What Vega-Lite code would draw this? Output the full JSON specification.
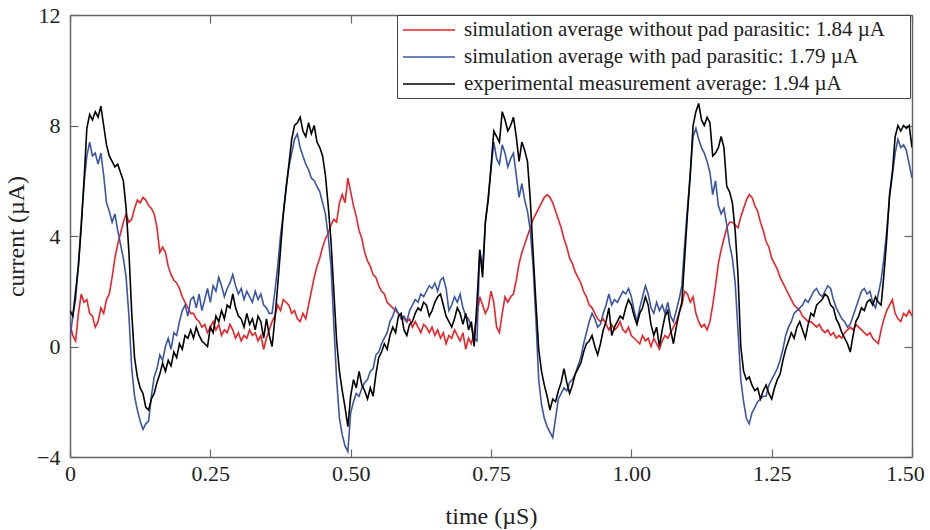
{
"$schema": "https://vega.github.io/schema/vega-lite/v6.json",
"autosize": {"type": "none"},
"padding": {"left": 70, "top": 15, "right": 18, "bottom": 73},
"width": 842,
"height": 442,
"background": "white",
"config": {
  "font": "Liberation Serif",
  "view": {"stroke": null},
  "axis": {"labelFont": "Liberation Serif", "titleFont": "Liberation Serif", "labelFontSize": 22, "titleFontSize": 24, "titleFontWeight": "normal", "labelColor": "#222", "titleColor": "#222", "domainColor": "#666", "domainWidth": 1.5, "tickColor": "#666", "tickWidth": 1.2, "grid": false}
},
"data": {"values": [
{"t":0,"r":0.8,"b":0.3,"k":1.3},{"t":0.005,"r":0.4,"b":1.1,"k":1.1},{"t":0.01,"r":0.2,"b":1.7,"k":2.0},{"t":0.015,"r":1.2,"b":3.0,"k":2.9},{"t":0.02,"r":1.9,"b":4.5,"k":4.3},{"t":0.025,"r":1.6,"b":5.9,"k":6.0},{"t":0.03,"r":1.7,"b":6.9,"k":7.9},{"t":0.035,"r":1.2,"b":7.4,"k":8.4},{"t":0.04,"r":1.1,"b":6.9,"k":8.2},{"t":0.045,"r":0.7,"b":7.0,"k":8.5},
{"t":0.05,"r":0.9,"b":6.6,"k":8.3},{"t":0.055,"r":1.4,"b":7.0,"k":8.7},{"t":0.06,"r":1.2,"b":6.2,"k":8.0},{"t":0.065,"r":1.7,"b":5.2,"k":7.3},{"t":0.07,"r":1.9,"b":4.9,"k":6.9},{"t":0.075,"r":2.5,"b":4.5,"k":6.7},{"t":0.08,"r":3.2,"b":4.8,"k":6.5},{"t":0.085,"r":3.7,"b":4.2,"k":6.6},{"t":0.09,"r":4.1,"b":3.7,"k":6.3},{"t":0.095,"r":4.5,"b":3.2,"k":6.0},
{"t":0.1,"r":4.8,"b":2.5,"k":5.0},{"t":0.105,"r":4.5,"b":1.1,"k":3.4},{"t":0.11,"r":4.6,"b":-0.8,"k":1.2},{"t":0.115,"r":5.0,"b":-1.8,"k":-0.4},{"t":0.12,"r":5.3,"b":-2.3,"k":-1.1},{"t":0.125,"r":5.2,"b":-2.7,"k":-1.5},{"t":0.13,"r":5.4,"b":-3.0,"k":-1.7},{"t":0.135,"r":5.3,"b":-2.8,"k":-2.2},{"t":0.14,"r":5.1,"b":-2.7,"k":-2.3},{"t":0.145,"r":5.0,"b":-1.8,"k":-1.9},
{"t":0.15,"r":4.8,"b":-1.1,"k":-1.7},{"t":0.155,"r":4.3,"b":-0.8,"k":-1.3},{"t":0.16,"r":3.4,"b":-0.3,"k":-1.0},{"t":0.165,"r":3.6,"b":-0.5,"k":-0.6},{"t":0.17,"r":3.4,"b":0.0,"k":-0.9},{"t":0.175,"r":2.9,"b":0.3,"k":-0.5},{"t":0.18,"r":2.6,"b":-0.1,"k":-0.7},{"t":0.185,"r":2.4,"b":0.5,"k":-0.2},{"t":0.19,"r":2.3,"b":0.4,"k":-0.4},{"t":0.195,"r":2.1,"b":0.9,"k":0.1},
{"t":0.2,"r":1.8,"b":1.3,"k":-0.1},{"t":0.205,"r":1.6,"b":1.5,"k":0.4},{"t":0.21,"r":1.4,"b":1.1,"k":0.3},{"t":0.215,"r":1.2,"b":1.7,"k":0.6},{"t":0.22,"r":1.2,"b":1.8,"k":0.3},{"t":0.225,"r":1.0,"b":1.4,"k":0.7},{"t":0.23,"r":0.9,"b":1.9,"k":0.4},{"t":0.235,"r":0.7,"b":1.3,"k":0.2},{"t":0.24,"r":0.8,"b":1.7,"k":0.1},{"t":0.245,"r":0.5,"b":2.1,"k":0.0},
{"t":0.25,"r":0.7,"b":1.6,"k":0.7},{"t":0.255,"r":0.9,"b":2.2,"k":0.5},{"t":0.26,"r":0.6,"b":2.0,"k":1.1},{"t":0.265,"r":0.8,"b":2.5,"k":0.9},{"t":0.27,"r":0.4,"b":2.2,"k":1.3},{"t":0.275,"r":0.6,"b":1.8,"k":1.0},{"t":0.28,"r":0.5,"b":2.1,"k":1.5},{"t":0.285,"r":0.8,"b":2.3,"k":1.4},{"t":0.29,"r":0.6,"b":2.6,"k":1.9},{"t":0.295,"r":0.3,"b":2.2,"k":1.4},
{"t":0.3,"r":0.5,"b":1.9,"k":1.1},{"t":0.305,"r":0.2,"b":2.1,"k":1.0},{"t":0.31,"r":0.4,"b":1.7,"k":0.7},{"t":0.315,"r":0.3,"b":2.0,"k":1.2},{"t":0.32,"r":0.6,"b":1.8,"k":0.8},{"t":0.325,"r":0.4,"b":1.6,"k":1.0},{"t":0.33,"r":0.5,"b":2.0,"k":0.6},{"t":0.335,"r":0.2,"b":1.7,"k":1.1},{"t":0.34,"r":0.4,"b":1.9,"k":0.9},{"t":0.345,"r":-0.1,"b":1.5,"k":0.3},
{"t":0.35,"r":0.3,"b":1.4,"k":1.0},{"t":0.355,"r":0.6,"b":1.2,"k":0.4},{"t":0.36,"r":0.9,"b":1.2,"k":0.0},{"t":0.365,"r":1.1,"b":2.0,"k":1.0},{"t":0.37,"r":1.5,"b":2.9,"k":2.2},{"t":0.375,"r":1.3,"b":4.0,"k":3.5},{"t":0.38,"r":1.7,"b":4.8,"k":4.8},{"t":0.385,"r":1.6,"b":5.8,"k":5.7},{"t":0.39,"r":1.5,"b":6.5,"k":6.6},{"t":0.395,"r":1.2,"b":7.0,"k":7.5},
{"t":0.4,"r":1.3,"b":7.5,"k":8.0},{"t":0.405,"r":1.0,"b":7.7,"k":8.1},{"t":0.41,"r":0.9,"b":7.2,"k":8.3},{"t":0.415,"r":1.2,"b":6.9,"k":7.8},{"t":0.42,"r":1.0,"b":6.6,"k":7.6},{"t":0.425,"r":1.5,"b":6.4,"k":8.1},{"t":0.43,"r":2.0,"b":6.1,"k":7.7},{"t":0.435,"r":2.5,"b":6.0,"k":8.0},{"t":0.44,"r":2.9,"b":5.8,"k":7.4},{"t":0.445,"r":3.2,"b":5.6,"k":7.2},
{"t":0.45,"r":3.6,"b":5.2,"k":6.9},{"t":0.455,"r":3.9,"b":4.8,"k":6.2},{"t":0.46,"r":4.1,"b":4.0,"k":5.1},{"t":0.465,"r":4.4,"b":2.9,"k":3.8},{"t":0.47,"r":4.6,"b":0.8,"k":2.0},{"t":0.475,"r":4.5,"b":-1.2,"k":0.2},{"t":0.48,"r":5.2,"b":-2.6,"k":-0.9},{"t":0.485,"r":5.5,"b":-3.2,"k":-1.6},{"t":0.49,"r":5.2,"b":-3.6,"k":-2.2},{"t":0.495,"r":6.1,"b":-3.8,"k":-2.9},
{"t":0.5,"r":5.6,"b":-2.4,"k":-1.8},{"t":0.505,"r":5.1,"b":-2.0,"k":-1.2},{"t":0.51,"r":4.7,"b":-1.7,"k":-1.5},{"t":0.515,"r":4.2,"b":-1.8,"k":-0.9},{"t":0.52,"r":3.9,"b":-1.5,"k":-1.4},{"t":0.525,"r":3.4,"b":-1.3,"k":-1.6},{"t":0.53,"r":3.1,"b":-1.2,"k":-1.9},{"t":0.535,"r":2.9,"b":-0.9,"k":-1.5},{"t":0.54,"r":2.6,"b":-0.8,"k":-1.8},{"t":0.545,"r":2.5,"b":-0.3,"k":-1.0},
{"t":0.55,"r":2.2,"b":-0.2,"k":-0.4},{"t":0.555,"r":2.0,"b":0.1,"k":-0.2},{"t":0.56,"r":1.9,"b":0.3,"k":0.1},{"t":0.565,"r":1.6,"b":0.5,"k":-0.1},{"t":0.57,"r":1.5,"b":0.9,"k":0.4},{"t":0.575,"r":1.4,"b":1.1,"k":0.7},{"t":0.58,"r":1.3,"b":1.4,"k":0.5},{"t":0.585,"r":1.2,"b":1.2,"k":1.1},{"t":0.59,"r":1.1,"b":1.0,"k":1.2},{"t":0.595,"r":1.0,"b":1.1,"k":0.6},
{"t":0.6,"r":0.9,"b":0.9,"k":0.4},{"t":0.605,"r":1.0,"b":1.3,"k":0.8},{"t":0.61,"r":0.7,"b":1.5,"k":0.9},{"t":0.615,"r":0.9,"b":1.7,"k":1.2},{"t":0.62,"r":0.7,"b":1.6,"k":1.4},{"t":0.625,"r":0.5,"b":1.9,"k":1.3},{"t":0.63,"r":0.8,"b":1.8,"k":1.6},{"t":0.635,"r":0.7,"b":2.0,"k":1.5},{"t":0.64,"r":0.5,"b":2.2,"k":1.1},{"t":0.645,"r":0.7,"b":2.1,"k":1.3},
{"t":0.65,"r":0.4,"b":2.3,"k":1.6},{"t":0.655,"r":0.6,"b":2.0,"k":1.8},{"t":0.66,"r":0.3,"b":2.4,"k":1.9},{"t":0.665,"r":0.5,"b":2.5,"k":1.5},{"t":0.67,"r":0.1,"b":2.1,"k":1.1},{"t":0.675,"r":0.4,"b":1.3,"k":0.9},{"t":0.68,"r":0.3,"b":1.5,"k":0.7},{"t":0.685,"r":0.6,"b":1.8,"k":1.0},{"t":0.69,"r":0.4,"b":1.6,"k":1.4},{"t":0.695,"r":0.2,"b":1.9,"k":1.2},
{"t":0.7,"r":0.5,"b":1.4,"k":0.8},{"t":0.705,"r":-0.1,"b":1.1,"k":1.2},{"t":0.71,"r":0.3,"b":1.0,"k":0.6},{"t":0.715,"r":0.1,"b":0.7,"k":0.9},{"t":0.72,"r":0.5,"b":0.3,"k":0.0},{"t":0.725,"r":1.1,"b":0.2,"k":1.6},{"t":0.73,"r":1.8,"b":3.5,"k":3.5},{"t":0.735,"r":1.5,"b":2.8,"k":2.5},{"t":0.74,"r":1.2,"b":4.5,"k":4.5},{"t":0.745,"r":1.4,"b":5.4,"k":5.3},
{"t":0.75,"r":2.0,"b":6.4,"k":6.5},{"t":0.755,"r":1.6,"b":7.4,"k":7.8},{"t":0.76,"r":0.7,"b":6.8,"k":7.6},{"t":0.765,"r":0.5,"b":6.6,"k":7.4},{"t":0.77,"r":1.2,"b":7.3,"k":8.5},{"t":0.775,"r":1.8,"b":7.0,"k":8.2},{"t":0.78,"r":1.6,"b":6.5,"k":7.8},{"t":0.785,"r":1.8,"b":6.8,"k":8.0},{"t":0.79,"r":1.9,"b":7.0,"k":8.3},{"t":0.795,"r":2.4,"b":6.2,"k":7.6},
{"t":0.8,"r":3.0,"b":5.4,"k":6.7},{"t":0.805,"r":3.4,"b":5.9,"k":7.4},{"t":0.81,"r":3.7,"b":5.3,"k":7.1},{"t":0.815,"r":4.0,"b":4.9,"k":6.7},{"t":0.82,"r":4.3,"b":4.2,"k":5.3},{"t":0.825,"r":4.6,"b":2.9,"k":3.4},{"t":0.83,"r":4.8,"b":1.0,"k":1.6},{"t":0.835,"r":5.0,"b":-1.2,"k":-0.1},{"t":0.84,"r":5.2,"b":-2.1,"k":-0.9},{"t":0.845,"r":5.4,"b":-2.6,"k":-1.4},
{"t":0.85,"r":5.5,"b":-2.9,"k":-1.8},{"t":0.855,"r":5.4,"b":-3.1,"k":-2.3},{"t":0.86,"r":5.2,"b":-3.3,"k":-1.9},{"t":0.865,"r":4.9,"b":-2.6,"k":-2.0},{"t":0.87,"r":4.6,"b":-1.9,"k":-1.6},{"t":0.875,"r":4.3,"b":-1.7,"k":-1.3},{"t":0.88,"r":3.9,"b":-1.5,"k":-0.8},{"t":0.885,"r":3.6,"b":-1.6,"k":-1.3},{"t":0.89,"r":3.2,"b":-1.3,"k":-1.7},{"t":0.895,"r":3.0,"b":-1.2,"k":-1.4},
{"t":0.9,"r":2.7,"b":-1.0,"k":-1.0},{"t":0.905,"r":2.5,"b":-0.7,"k":-0.8},{"t":0.91,"r":2.3,"b":-0.4,"k":-0.6},{"t":0.915,"r":2.0,"b":0.1,"k":-0.2},{"t":0.92,"r":1.8,"b":0.5,"k":0.1},{"t":0.925,"r":1.5,"b":0.9,"k":0.2},{"t":0.93,"r":1.4,"b":1.2,"k":0.4},{"t":0.935,"r":1.2,"b":1.0,"k":0.0},{"t":0.94,"r":1.0,"b":0.7,"k":-0.3},{"t":0.945,"r":0.9,"b":0.8,"k":0.1},
{"t":0.95,"r":1.0,"b":1.2,"k":0.6},{"t":0.955,"r":0.8,"b":1.5,"k":0.9},{"t":0.96,"r":0.6,"b":1.9,"k":1.4},{"t":0.965,"r":0.8,"b":1.5,"k":0.4},{"t":0.97,"r":0.6,"b":1.7,"k":0.7},{"t":0.975,"r":0.7,"b":1.6,"k":0.9},{"t":0.98,"r":0.9,"b":1.8,"k":1.1},{"t":0.985,"r":0.6,"b":2.0,"k":1.0},{"t":0.99,"r":0.5,"b":1.9,"k":1.4},{"t":0.995,"r":0.7,"b":2.1,"k":1.7},
{"t":1.0,"r":0.4,"b":1.8,"k":1.5},{"t":1.005,"r":0.3,"b":1.3,"k":1.1},{"t":1.01,"r":0.2,"b":0.9,"k":0.8},{"t":1.015,"r":0.1,"b":1.4,"k":1.2},{"t":1.02,"r":0.4,"b":1.8,"k":1.4},{"t":1.025,"r":0.2,"b":2.2,"k":1.8},{"t":1.03,"r":0.3,"b":1.9,"k":1.5},{"t":1.035,"r":0.0,"b":1.4,"k":0.8},{"t":1.04,"r":0.3,"b":1.2,"k":0.4},{"t":1.045,"r":0.1,"b":1.6,"k":0.7},
{"t":1.05,"r":-0.1,"b":1.3,"k":0.0},{"t":1.055,"r":0.2,"b":1.5,"k":0.6},{"t":1.06,"r":0.4,"b":1.2,"k":1.1},{"t":1.065,"r":0.3,"b":1.6,"k":1.3},{"t":1.07,"r":0.5,"b":1.1,"k":0.6},{"t":1.075,"r":0.7,"b":0.9,"k":0.1},{"t":1.08,"r":0.9,"b":1.3,"k":0.7},{"t":1.085,"r":1.2,"b":1.7,"k":1.2},{"t":1.09,"r":1.5,"b":2.2,"k":1.6},{"t":1.095,"r":2.0,"b":3.7,"k":3.2},
{"t":1.1,"r":1.9,"b":5.0,"k":4.8},{"t":1.105,"r":1.6,"b":6.3,"k":6.2},{"t":1.11,"r":1.8,"b":7.6,"k":8.0},{"t":1.115,"r":1.2,"b":7.9,"k":8.5},{"t":1.12,"r":0.9,"b":7.5,"k":8.8},{"t":1.125,"r":0.7,"b":7.2,"k":8.2},{"t":1.13,"r":0.8,"b":7.0,"k":8.0},{"t":1.135,"r":0.6,"b":6.7,"k":8.3},{"t":1.14,"r":0.9,"b":6.3,"k":8.1},{"t":1.145,"r":1.5,"b":5.5,"k":6.9},
{"t":1.15,"r":2.2,"b":6.0,"k":7.0},{"t":1.155,"r":3.0,"b":5.1,"k":7.2},{"t":1.16,"r":3.5,"b":4.8,"k":7.6},{"t":1.165,"r":3.9,"b":5.0,"k":7.2},{"t":1.17,"r":4.3,"b":4.4,"k":5.8},{"t":1.175,"r":4.5,"b":3.7,"k":5.6},{"t":1.18,"r":4.5,"b":3.2,"k":5.2},{"t":1.185,"r":4.4,"b":2.3,"k":4.2},{"t":1.19,"r":4.3,"b":0.6,"k":2.6},{"t":1.195,"r":4.7,"b":-1.2,"k":0.0},
{"t":1.2,"r":5.0,"b":-2.0,"k":-0.9},{"t":1.205,"r":5.3,"b":-2.6,"k":-1.2},{"t":1.21,"r":5.5,"b":-2.8,"k":-1.1},{"t":1.215,"r":5.4,"b":-2.4,"k":-1.4},{"t":1.22,"r":5.1,"b":-2.2,"k":-1.6},{"t":1.225,"r":4.9,"b":-2.0,"k":-1.5},{"t":1.23,"r":4.5,"b":-1.9,"k":-1.9},{"t":1.235,"r":4.2,"b":-1.8,"k":-1.6},{"t":1.24,"r":3.8,"b":-1.8,"k":-1.4},{"t":1.245,"r":3.6,"b":-1.4,"k":-1.7},
{"t":1.25,"r":3.2,"b":-1.2,"k":-1.9},{"t":1.255,"r":3.0,"b":-1.0,"k":-1.5},{"t":1.26,"r":2.8,"b":-0.8,"k":-1.2},{"t":1.265,"r":2.5,"b":-0.5,"k":-1.0},{"t":1.27,"r":2.3,"b":-0.1,"k":-0.5},{"t":1.275,"r":2.1,"b":0.4,"k":-0.1},{"t":1.28,"r":1.9,"b":0.7,"k":0.2},{"t":1.285,"r":1.7,"b":0.9,"k":0.5},{"t":1.29,"r":1.5,"b":1.2,"k":0.3},{"t":1.295,"r":1.4,"b":1.3,"k":0.7},
{"t":1.3,"r":1.3,"b":1.4,"k":0.9},{"t":1.305,"r":1.1,"b":1.5,"k":0.6},{"t":1.31,"r":1.0,"b":1.7,"k":0.3},{"t":1.315,"r":0.9,"b":1.6,"k":0.8},{"t":1.32,"r":0.9,"b":1.8,"k":1.2},{"t":1.325,"r":0.8,"b":2.0,"k":1.1},{"t":1.33,"r":0.7,"b":2.1,"k":1.5},{"t":1.335,"r":0.8,"b":1.9,"k":1.6},{"t":1.34,"r":0.6,"b":1.8,"k":1.7},{"t":1.345,"r":0.5,"b":2.0,"k":1.9},
{"t":1.35,"r":0.6,"b":2.2,"k":1.8},{"t":1.355,"r":0.4,"b":2.1,"k":1.5},{"t":1.36,"r":0.5,"b":1.7,"k":1.4},{"t":1.365,"r":0.3,"b":1.4,"k":1.0},{"t":1.37,"r":0.4,"b":1.2,"k":0.8},{"t":1.375,"r":0.3,"b":1.0,"k":0.5},{"t":1.38,"r":0.5,"b":0.9,"k":0.3},{"t":1.385,"r":0.6,"b":0.7,"k":0.1},{"t":1.39,"r":0.7,"b":0.8,"k":-0.2},{"t":1.395,"r":0.6,"b":1.1,"k":0.4},
{"t":1.4,"r":0.8,"b":1.4,"k":0.9},{"t":1.405,"r":0.7,"b":1.7,"k":1.1},{"t":1.41,"r":0.6,"b":2.0,"k":1.4},{"t":1.415,"r":0.5,"b":2.1,"k":1.3},{"t":1.42,"r":0.4,"b":1.9,"k":1.6},{"t":1.425,"r":0.5,"b":2.0,"k":1.7},{"t":1.43,"r":0.3,"b":1.6,"k":1.5},{"t":1.435,"r":0.2,"b":1.4,"k":1.8},{"t":1.44,"r":0.1,"b":1.9,"k":1.6},{"t":1.445,"r":0.6,"b":2.4,"k":1.5},
{"t":1.45,"r":1.0,"b":3.2,"k":2.6},{"t":1.455,"r":1.3,"b":4.2,"k":3.9},{"t":1.46,"r":1.5,"b":5.4,"k":5.5},{"t":1.465,"r":1.7,"b":6.2,"k":6.3},{"t":1.47,"r":1.2,"b":7.0,"k":7.6},{"t":1.475,"r":1.0,"b":7.5,"k":8.0},{"t":1.48,"r":0.9,"b":7.2,"k":7.8},{"t":1.485,"r":1.2,"b":7.3,"k":8.0},{"t":1.49,"r":1.1,"b":7.1,"k":7.9},{"t":1.495,"r":1.3,"b":6.6,"k":8.0},
{"t":1.5,"r":1.1,"b":6.1,"k":7.2}
]},
"transform": [{"fold": ["r", "b", "k"], "as": ["series", "v"]}],
"layer": [
  {
    "mark": {"type": "line", "strokeWidth": 1.6, "clip": true},
    "encoding": {
      "x": {"field": "t", "type": "quantitative", "scale": {"domain": [0, 1.5], "nice": false, "zero": false},
        "axis": {"orient": "bottom", "values": [0, 0.25, 0.5, 0.75, 1, 1.25, 1.5], "labelExpr": "datum.value == 0 ? '0' : format(datum.value, '.2f')", "tickSize": -8, "labelPadding": 14, "title": "time (µS)", "titleY": 47, "labelFlush": false, "labelOverlap": false,
          "labelOffset": {"condition": {"test": "datum.value > 1.4", "value": -7}, "value": 0},
          "encode": {"labels": {"update": {"dy": {"signal": "datum.value == 0.5 ? 7 : 0"}}}}}},
      "y": {"field": "v", "type": "quantitative", "scale": {"domain": [-4, 12], "nice": false, "zero": false},
        "axis": {"orient": "left", "values": [-4, 0, 4, 8, 12], "tickSize": -8, "labelPadding": 18, "title": "current (µA)", "titlePadding": 8, "labelFlush": false, "labelOverlap": false}},
      "color": {"field": "series", "type": "nominal",
        "scale": {"domain": ["r", "b", "k"], "range": ["#ee2228", "#3a55a6", "#000000"]},
        "legend": {"orient": "none", "legendX": 327, "legendY": 0, "title": ".", "titleOrient": "right", "titleOpacity": 0, "titleFontSize": 4, "titlePadding": 20, "symbolType": "M-2.6,0H2.6", "symbolSize": 400, "symbolStrokeWidth": 1.6, "symbolOffset": 17, "labelFont": "Liberation Serif", "labelFontSize": 21, "labelColor": "#222", "labelLimit": 700, "rowPadding": 6, "padding": 4, "strokeColor": "#444", "fillColor": "white", "labelOffset": 24,
          "labelExpr": "datum.label == 'r' ? 'simulation average without pad parasitic: 1.84 µA' : datum.label == 'b' ? 'simulation average with pad parasitic: 1.79 µA' : 'experimental measurement average: 1.94 µA'"}}
    }
  },
  {
    "mark": {"type": "line", "opacity": 0},
    "encoding": {
      "x": {"field": "t", "type": "quantitative", "axis": {"orient": "top", "values": [0, 0.25, 0.5, 0.75, 1, 1.25, 1.5], "tickSize": -8, "labels": false, "title": null}},
      "y": {"field": "v", "type": "quantitative", "axis": {"orient": "right", "values": [-4, 0, 4, 8, 12], "tickSize": -8, "labels": false, "title": null}}
    }
  }
],
"resolve": {"axis": {"x": "independent", "y": "independent"}}
}
